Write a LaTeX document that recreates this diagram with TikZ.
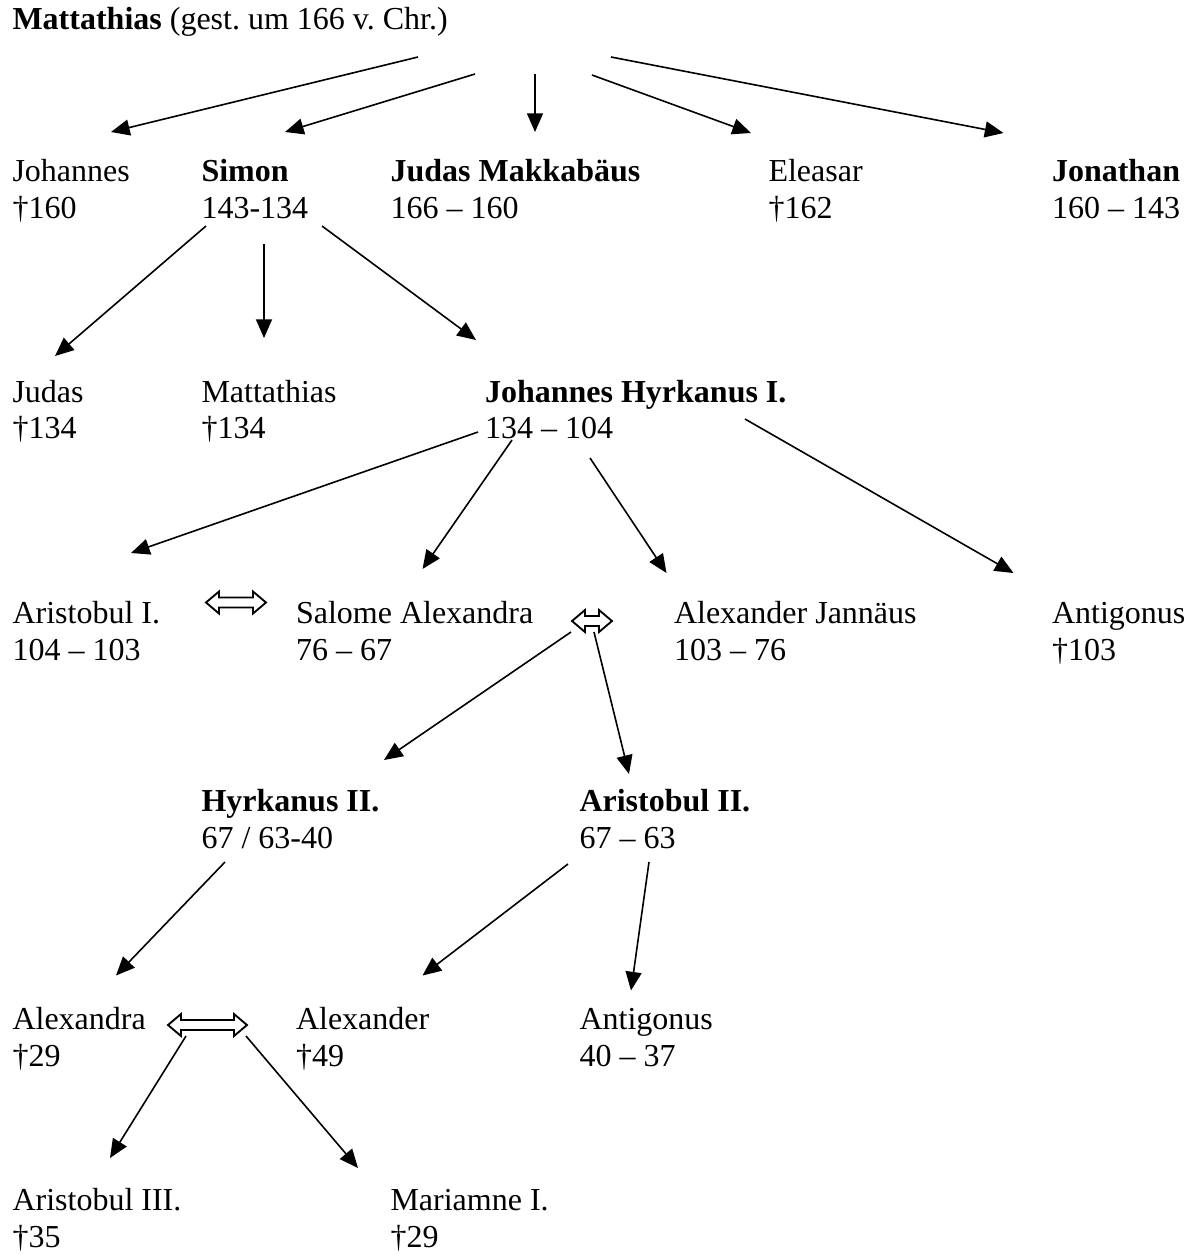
\documentclass[tikz,border=0pt]{standalone}
\usepackage{fontspec}
\setmainfont{Liberation Serif}
\usetikzlibrary{arrows.meta}
\frenchspacing

\begin{document}
\begin{tikzpicture}[x=0.375pt,y=-0.375pt,
	person/.style={anchor=north west,inner sep=0pt,align=left,font=\fontsize{12}{13.8}\selectfont},
	kind/.style={-{Triangle[length=7pt,width=6pt]},line width=0.6pt},
	pics/ehe/.style={code={
		\draw[line width=0.7pt,fill=white] (-#1,0) -- ({-#1+13},-11) -- ({-#1+13},-5) -- ({#1-13},-5)
			-- ({#1-13},-11) -- (#1,0) -- ({#1-13},11) -- ({#1-13},5) -- ({-#1+13},5) -- ({-#1+13},11) -- cycle;
	}}]
	\useasboundingbox (0,0) rectangle (1192,1255);

	% Generationen
	\node[person] (matt) at (12,3) {\strut\textbf{Mattathias} (gest. um 166 v. Chr.)};

	\node[person] (johannes) at (12,155) {\strut Johannes\\†160};
	\node[person] (simon) at (201,155) {\strut\textbf{Simon}\\143-134};
	\node[person] (judasm) at (390,155) {\strut\textbf{Judas Makkabäus}\\166 -- 160};
	\node[person] (eleasar) at (768,155) {\strut Eleasar\\†162};
	\node[person] (jonathan) at (1051.5,155) {\strut\textbf{Jonathan}\\160 -- 143};

	\node[person] (judas) at (12,375.75) {\strut Judas\\†134};
	\node[person] (mattii) at (201,375.75) {\strut Mattathias\\†134};
	\node[person] (hyrki) at (484.5,375.75) {\strut\textbf{Johannes Hyrkanus I.}\\134 -- 104};

	\node[person] (aristi) at (12,597.5) {\strut Aristobul I.\\104 -- 103};
	\node[person] (salome) at (295.5,597.5) {\strut Salome Alexandra\\76 -- 67};
	\node[person] (jannaeus) at (673.5,597.5) {\strut Alexander Jannäus\\103 -- 76};
	\node[person] (antigi) at (1051.5,597.5) {\strut Antigonus\\†103};

	\node[person] (hyrkii) at (201,785) {\strut\textbf{Hyrkanus II.}\\67 / 63-40};
	\node[person] (aristii) at (579,785) {\strut\textbf{Aristobul II.}\\67 -- 63};

	\node[person] (alexandra) at (12,1003.5) {\strut Alexandra\\†29};
	\node[person] (alexander) at (295.5,1003.5) {\strut Alexander\\†49};
	\node[person] (antigii) at (579,1003.5) {\strut Antigonus\\40 -- 37};

	\node[person] (aristiii) at (12,1184) {\strut Aristobul III.\\†35};
	\node[person] (mariamne) at (390,1184) {\strut Mariamne I.\\†29};

	% Ehen
	\coordinate (ehei) at (236,602.5);
	\coordinate (eheii) at (592,621);
	\coordinate (eheiii) at (207.5,1025);
	\pic at (ehei) {ehe=30};
	\pic at (eheii) {ehe=20};
	\pic at (eheiii) {ehe=39.5};

	% Abstammung
	\draw[kind] ([shift={(406,54)}]matt.north west) -- ([shift={(99,-23)}]johannes.north west);
	\draw[kind] ([shift={(463,71)}]matt.north west) -- ([shift={(84,-23)}]simon.north west);
	\draw[kind] ([shift={(523,71)}]matt.north west) -- ([shift={(145,-23)}]judasm.north west);
	\draw[kind] ([shift={(580,72)}]matt.north west) -- ([shift={(-17,-22)}]eleasar.north west);
	\draw[kind] ([shift={(599,54)}]matt.north west) -- ([shift={(-48,-22)}]jonathan.north west);

	\draw[kind] ([shift={(5,71)}]simon.north west) -- ([shift={(43,-19.75)}]judas.north west);
	\draw[kind] ([shift={(63,89)}]simon.north west) -- ([shift={(63,-37.75)}]mattii.north west);
	\draw[kind] ([shift={(121,71)}]simon.north west) -- ([shift={(-8.5,-35.75)}]hyrki.north west);

	\draw[kind] ([shift={(-6.5,56.25)}]hyrki.north west) -- ([shift={(119,-44.5)}]aristi.north west);
	\draw[kind] ([shift={(27.5,64.25)}]hyrki.north west) -- ([shift={(127,-28.5)}]salome.north west);
	\draw[kind] ([shift={(105.5,82.25)}]hyrki.north west) -- ([shift={(-7,-24.5)}]jannaeus.north west);
	\draw[kind] ([shift={(260.5,43.25)}]hyrki.north west) -- ([shift={(-38,-24.5)}]antigi.north west);

	\draw[kind] ([shift={(-21,11)}]eheii) -- ([shift={(183,-25)}]hyrkii.north west);
	\draw[kind] ([shift={(2,11)}]eheii) -- ([shift={(50,-11)}]aristii.north west);

	\draw[kind] ([shift={(24,77)}]hyrkii.north west) -- ([shift={(104,-28)}]alexandra.north west);
	\draw[kind] ([shift={(-11,79)}]aristii.north west) -- ([shift={(127,-28)}]alexander.north west);
	\draw[kind] ([shift={(70,77)}]aristii.north west) -- ([shift={(52,-13)}]antigii.north west);

	\draw[kind] ([shift={(-21.5,11)}]eheiii) -- ([shift={(98,-26)}]aristiii.north west);
	\draw[kind] ([shift={(38.5,11)}]eheiii) -- ([shift={(-32,-16)}]mariamne.north west);
\end{tikzpicture}
\end{document}
